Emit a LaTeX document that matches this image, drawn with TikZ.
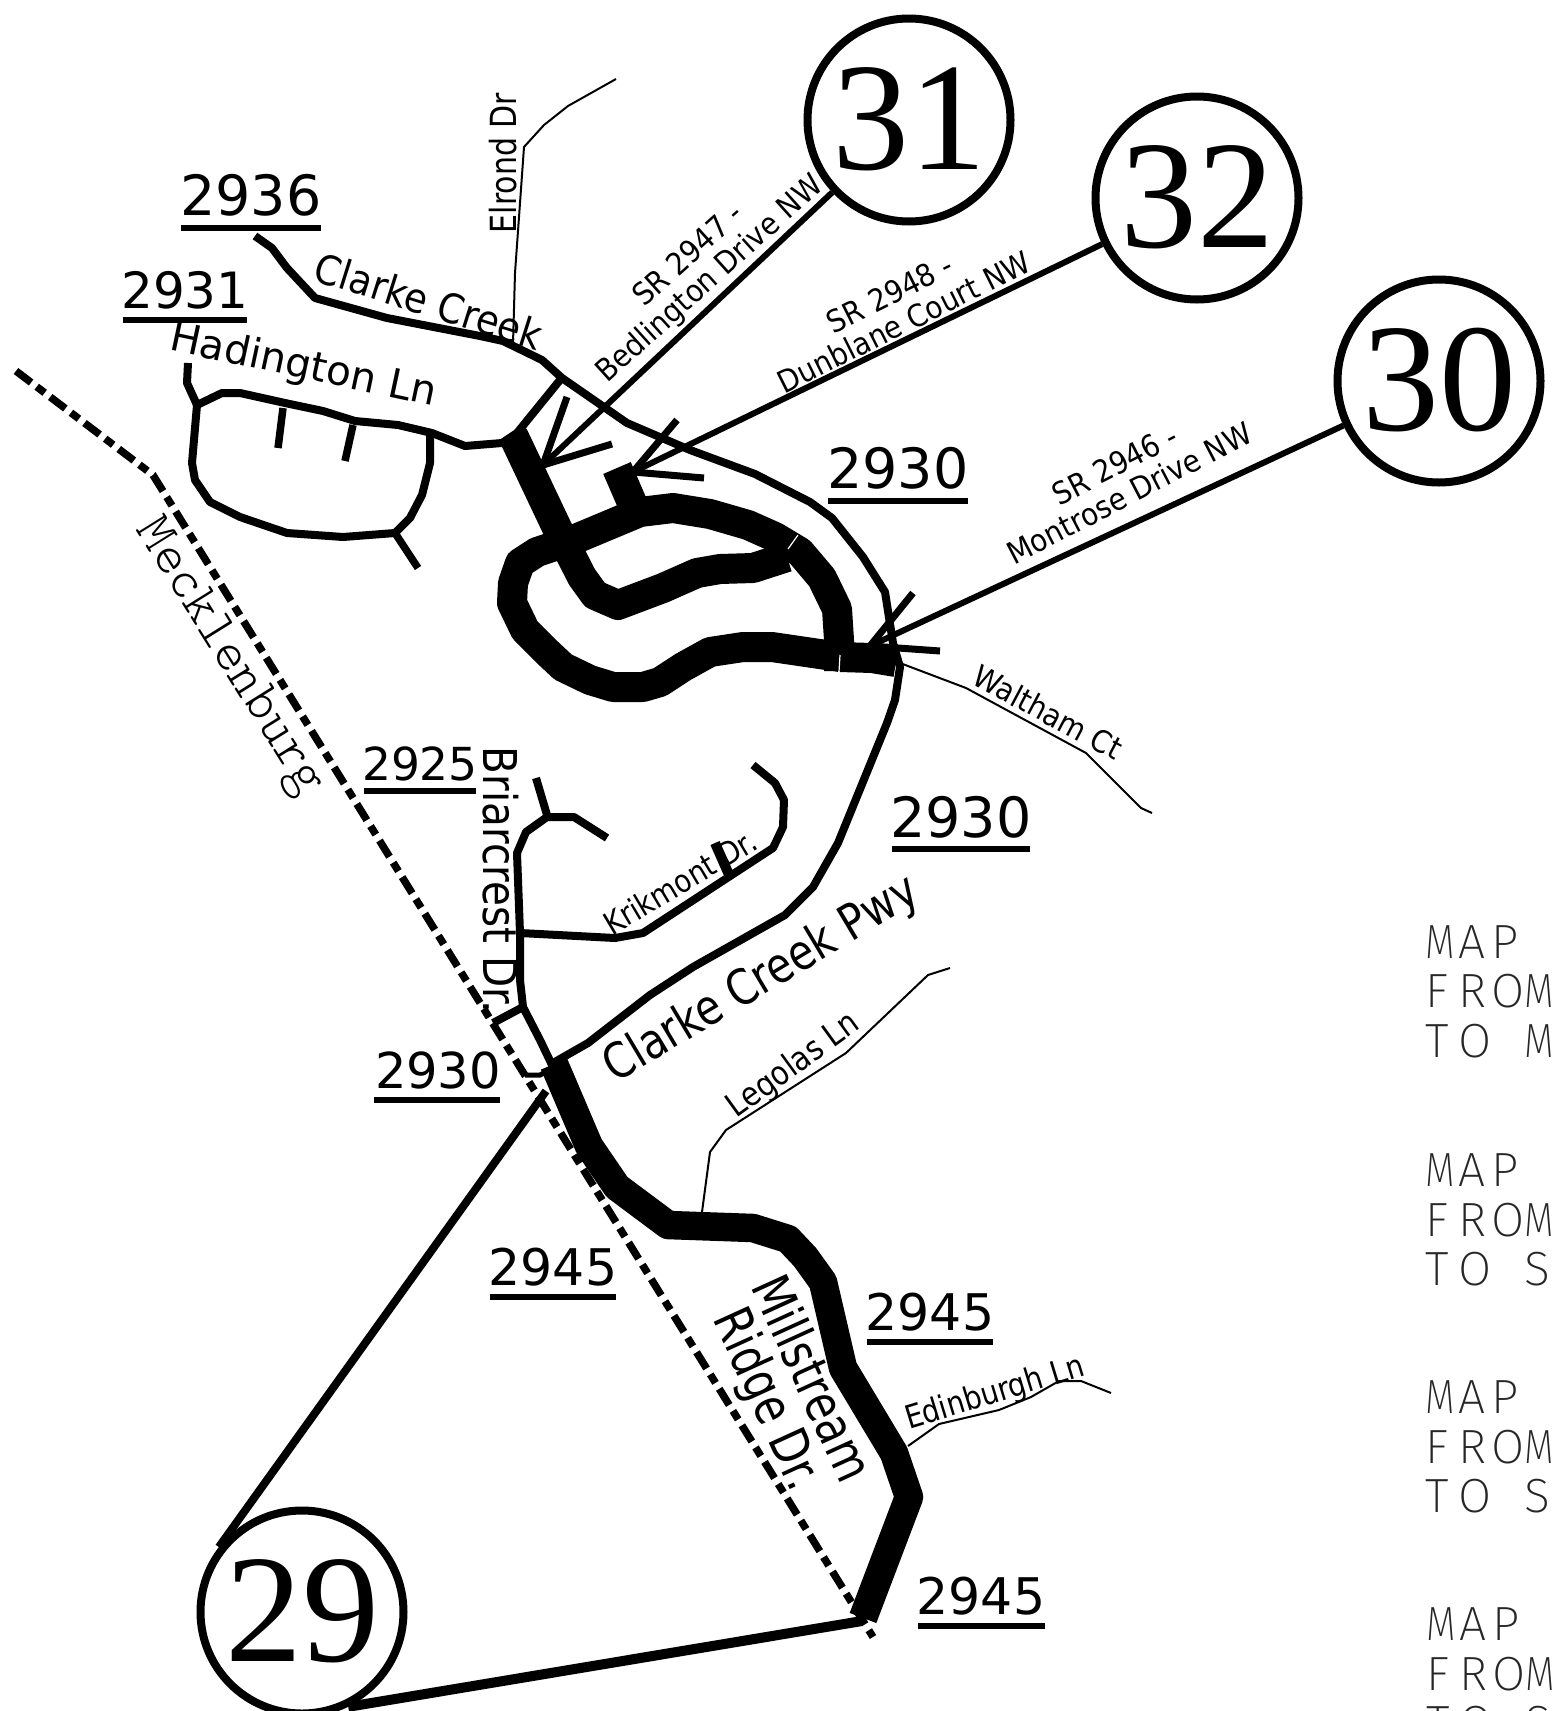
\documentclass[tikz,border=0pt]{standalone}
\usepackage{fontspec}
\usepackage{graphicx}
\setmainfont{DejaVu Sans}
\newfontfamily\timesf{Liberation Serif}
\newfontfamily\mapf{Fira Sans ExtraLight}
\newfontfamily\meckf{Latin Modern Mono Light}
\newcommand{\fs}[2]{\fontsize{#1pt}{#2pt}\selectfont}
\newcommand{\mc}[1]{\makebox[33pt][l]{#1}}
\newcommand{\mM}{\scalebox{.8}[1]{M}}
\newcommand{\up}[1]{\raisebox{3pt}{#1}}
\tikzset{
  road/.style={line width=8pt,line join=round},
  thickroad/.style={line width=30pt,line join=round},
  midroad/.style={line width=28.5pt,line join=round},
  thinroad/.style={line width=2pt,line join=round},
  stub/.style={line width=7.5pt},
  ray/.style={line width=6pt},
  barb/.style={line width=7pt},
  route/.style={circle,draw,line width=8pt,fill=white,minimum size=203pt,inner sep=0pt,font=\timesf\fs{154}{154}},
  num/.style={anchor=base,inner sep=0pt},
  under/.style={line width=6pt},
  lab/.style={inner sep=0pt,align=center},
  slit/.style={line width=1.2pt,white},
  mapt/.style={anchor=base west,inner sep=0pt,font=\mapf\fs{48}{48},text=black!85},
  county/.style={line width=7.5pt,dash pattern=on 19pt off 7pt on 10pt off 7pt}
}
\begin{document}
\begin{tikzpicture}[x=1pt,y=-1pt]
\useasboundingbox (0,0) rectangle (1551,1711);
\clip (0,0) rectangle (1551,1711);
% county line
\draw[county] (16,371) -- (153,475) -- (873,1637);
\node[lab,rotate=-58,font=\meckf\fs{54.5}{55}] (meck) at (228,658) {Mecklenburg};
% thin streets
\draw[thinroad] (616,79) -- (568,106) -- (544,125) -- (524,147) -- (515,273) -- (513,344);
\draw[thinroad] (900,663) -- (966,688) -- (1086,753) -- (1141,808) -- (1152,813);
\draw[thinroad] (702,1212) -- (710,1152) -- (726,1130) -- (846,1053) -- (928,975) -- (950,968);
\draw[thinroad] (908,1446) -- (939,1424) -- (999,1410) -- (1031,1397) -- (1059,1381) -- (1081,1381) -- (1111,1393);
% Clarke Creek (2936/2930)
\draw[road] (255,236) -- (272,248) -- (287,268) -- (315,298) -- (387,318) -- (480,336) -- (503,341) -- (542,360) -- (562,378) -- (627,423) -- (690,450) -- (755,474) -- (810,502) -- (832,518) -- (863,557) -- (885,592) -- (893,643) -- (900,667) -- (895,700) -- (887,723) -- (838,843) -- (813,887) -- (785,915) -- (693,967) -- (650,995) -- (588,1043) -- (553,1063);
% Hadington loop
\draw[road] (188,363) -- (187,383) -- (197,405) -- (222,393) -- (240,393) -- (285,403) -- (323,411) -- (355,421) -- (398,425) -- (432,433) -- (465,446) -- (502,443) -- (517,433) -- (560,380);
\draw[road] (197,405) -- (192,463) -- (195,480) -- (210,502) -- (240,517) -- (287,533) -- (343,537) -- (395,533) -- (410,518) -- (422,495) -- (430,463) -- (430,433);
\draw[stub] (395,533) -- (418,568);
\draw[stub] (283,408) -- (278,448);
\draw[stub] (353,425) -- (345,461);
% Briarcrest and Krikmont
\draw[road] (536,778) -- (547,815);
\draw[road] (607,838) -- (574,817) -- (547,817) -- (526,832) -- (517,853) -- (520,933) -- (520,980) -- (523,1007) -- (540,1040) -- (553,1067);
\draw[road] (523,1007) -- (493,1023);
\draw[stub,line width=5pt] (525,1075) -- (540,1075) -- (553,1068);
\draw[road] (520,933) -- (615,938) -- (643,933) -- (773,848) -- (783,827) -- (784,800) -- (775,783) -- (753,765);
\draw[line width=10pt] (715,843) -- (730,877);
% thick road loop
\draw[thickroad] (513,435) -- (558,530) -- (582,577) -- (595,595) -- (618,605) -- (663,588) -- (697,573) -- (720,569) -- (753,568) -- (787,557);
\draw[thickroad] (839,671) -- (839,640) -- (837,609) -- (822,578) -- (800,552) -- (775,537) -- (748,525) -- (710,514) -- (673,508) -- (640,512) -- (573,540) -- (537,552) -- (520,563) -- (513,583) -- (512,603) -- (525,630) -- (547,652) -- (563,667) -- (590,680) -- (613,687) -- (643,687) -- (660,682) -- (683,667) -- (710,652) -- (743,647) -- (772,647) -- (840,657);
\draw[thickroad] (840,657) -- (872,658) -- (896,662);
\draw[thickroad] (617,468) -- (633,505);
\draw[slit] (798,535) -- (788,549);
\draw[slit] (840,655) -- (839,672);
% Millstream road
\draw[midroad] (554,1064) -- (589,1146) -- (617,1187) -- (668,1225) -- (753,1228) -- (788,1239) -- (805,1257) -- (823,1282) -- (843,1368) -- (894,1453) -- (909,1497) -- (863,1618);
% route circles
\node[route] (c31) at (909,120) {\up{31}};
\node[route] (c32) at (1197,198) {\up{32}};
\node[route] (c30) at (1439,381) {\up{30}};
\node[route] (c29) at (302,1612) {\up{29}};
\coordinate (tip31) at (543,465);
\coordinate (tip32) at (633,472);
\coordinate (tip30) at (870,646);
\coordinate (b31a) at (567,397);
\coordinate (b31b) at (612,444);
\coordinate (b32a) at (677,420);
\coordinate (b32b) at (704,478);
\coordinate (b30a) at (913,593);
\coordinate (b30b) at (940,651);
\coordinate (tip29a) at (546,1091);
\coordinate (tip29b) at (862,1621);
\draw[ray] (c31) -- (tip31);
\draw[barb] (b31a) -- (tip31) -- (b31b);
\draw[ray] (c32) -- (tip32);
\draw[barb] (b32a) -- (tip32) -- (b32b);
\draw[ray] (c30) -- (tip30);
\draw[barb] (b30a) -- (tip30) -- (b30b);
\draw[line width=8pt] (c29.142) -- (tip29a);
\draw[line width=10pt] (c29.-64) -- (tip29b);
% route numbers
\node[num,font=\fs{55.5}{55}] (n2936) at (251,215) {2936};
\draw[under] (181,228) -- (321,228);
\node[num,font=\fs{50}{50}] (n2931) at (185,308) {2931};
\draw[under] (123,320) -- (247,320);
\node[num,font=\fs{55.5}{55}] (n2930a) at (898,488) {2930};
\draw[under] (828,501) -- (968,501);
\node[num,font=\fs{55.5}{55}] (n2930b) at (961,837) {2930};
\draw[under] (892,849) -- (1030,849);
\node[num,font=\fs{45.5}{45}] (n2925) at (420,780) {2925};
\draw[under] (364,791) -- (476,791);
\node[num,font=\fs{49.5}{50}] (n2930c) at (438,1088) {2930};
\draw[under] (374,1100) -- (500,1100);
\node[num,font=\fs{50.5}{50}] (n2945a) at (553,1285) {2945};
\draw[under] (490,1297) -- (616,1297);
\node[num,font=\fs{50.5}{50}] (n2945b) at (930,1330) {2945};
\draw[under] (867,1342) -- (993,1342);
\node[num,font=\fs{50.5}{50}] (n2945c) at (981,1614) {2945};
\draw[under] (918,1626) -- (1045,1626);
% street names
\node[lab,rotate=-17.5,yscale=1.1,font=\fs{37}{37}] (l1) at (429,301) {Clarke Creek};
\node[lab,rotate=-12,font=\fs{40.5}{40}] (l2) at (303,367) {Hadington Ln};
\node[lab,rotate=90,yscale=1.2,font=\fs{30}{30}] (l3) at (503,163) {Elrond Dr};
\node[lab,rotate=42,yscale=1.1,font=\fs{28}{29}] (l4) at (700,268) {SR 2947 -\\Bedlington Drive NW};
\node[lab,rotate=26.5,yscale=1.1,font=\fs{28}{29}] (l5) at (897,308) {SR 2948 -\\Dunblane Court NW};
\node[lab,rotate=27.4,yscale=1.1,font=\fs{28}{29}] (l6) at (1122,479) {SR 2946 -\\Montrose Drive NW};
\node[lab,rotate=-28,yscale=1.1,font=\fs{28}{28}] (l7) at (1048,712) {Waltham Ct};
\node[lab,rotate=36,yscale=1.15,font=\fs{29}{29}] (l8) at (794,1066) {Legolas Ln};
\node[lab,rotate=17,yscale=1.15,font=\fs{28}{28}] (l9) at (995,1394) {Edinburgh Ln};
\node[lab,rotate=30.7,yscale=1.15,font=\fs{27.5}{28}] (l10) at (680,882) {Krikmont Dr.};
\node[lab,rotate=-90,yscale=1.15,font=\fs{40.5}{41}] (l11) at (501,880) {Briarcrest Dr.};
\node[lab,rotate=30.8,yscale=1.2,font=\fs{41}{41}] (l12) at (762,980) {Clarke Creek Pwy};
\node[lab,rotate=-65.5,yscale=1.25,font=\fs{42}{38.5}] (l13) at (787,1390) {Millstream\\Ridge Dr.};
% clipped map notes
\node[mapt] (m1a) at (1425,958) {\mc{\mM}\mc{A}\mc{P}};
\node[mapt] (m1b) at (1425,1007) {\mc{F}\mc{R}\mc{O}\mc{\mM}};
\node[mapt] (m1c) at (1425,1057) {\mc{T}\mc{O}\mc{ }\mc{\mM}};
\node[mapt] (m2a) at (1425,1186) {\mc{\mM}\mc{A}\mc{P}};
\node[mapt] (m2b) at (1425,1236) {\mc{F}\mc{R}\mc{O}\mc{\mM}};
\node[mapt] (m2c) at (1425,1285) {\mc{T}\mc{O}\mc{ }\mc{S}};
\node[mapt] (m3a) at (1425,1413) {\mc{\mM}\mc{A}\mc{P}};
\node[mapt] (m3b) at (1425,1463) {\mc{F}\mc{R}\mc{O}\mc{\mM}};
\node[mapt] (m3c) at (1425,1512) {\mc{T}\mc{O}\mc{ }\mc{S}};
\node[mapt] (m4a) at (1426,1640) {\mc{\mM}\mc{A}\mc{P}};
\node[mapt] (m4b) at (1426,1690) {\mc{F}\mc{R}\mc{O}\mc{\mM}};
\node[mapt] (m4c) at (1426,1739) {\mc{T}\mc{O}\mc{ }\mc{S}};
\end{tikzpicture}
\end{document}
